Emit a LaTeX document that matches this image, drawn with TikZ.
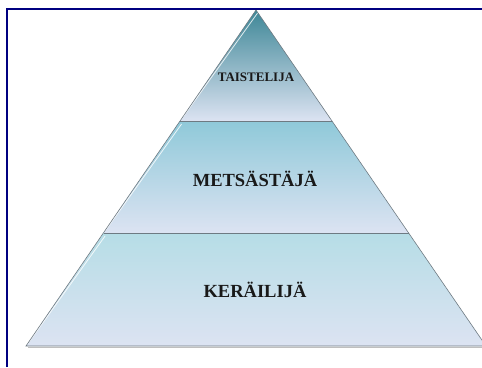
\documentclass[tikz,border=0pt]{standalone}
\usepackage{fontspec}
\setmainfont{Liberation Serif}
\usetikzlibrary{calc}
\definecolor{navyb}{HTML}{000080}
\definecolor{edgegray}{HTML}{6E7A82}
\definecolor{tealdark}{HTML}{3E8797}
\definecolor{tealmid}{HTML}{8FC9D9}
\definecolor{tealpale}{HTML}{B6DDE6}
\definecolor{lavmid}{HTML}{C4D1EC}
\definecolor{lavlow}{HTML}{DCE3F2}
\definecolor{lavtop}{HTML}{B3C6E2}
\tikzset{
  tier/.style={draw=edgegray, line width=0.6pt},
  label/.style={font=\bfseries, text=black!90, inner sep=0pt},
  frame/.style={draw=navyb, line width=2pt},
  shine/.style={draw=white, line width=0.8pt, opacity=0.8}
}
\begin{document}
\begin{tikzpicture}[x=1pt,y=-1pt]
\useasboundingbox (0,0) rectangle (482,367);
\fill[white] (0,0) rectangle (482,367);
\clip (0,0) rectangle (482,367);
\coordinate (A) at (256,10);
\coordinate (L) at (26,346);
\coordinate (R) at (486,346);
\coordinate (P1) at (180,121);
\coordinate (Q1) at (332,121);
\coordinate (P2) at (103.5,233);
\coordinate (Q2) at (408.5,233);
% tiers
\shade[top color=tealdark, middle color=lavtop, bottom color=lavlow] (A) -- (Q1) -- (P1) -- cycle;
\shade[top color=tealmid, middle color=lavmid, bottom color=lavlow] (P1) -- (Q1) -- (Q2) -- (P2) -- cycle;
\shade[top color=tealpale, middle color=lavmid, bottom color=lavlow] (P2) -- (Q2) -- (R) -- (L) -- cycle;
% highlights on left edges
\draw[shine] ($(A)+(1.6,3)$) -- ($(P1)+(1.6,-2)$);
\draw[shine] ($(P1)+(1.6,3)$) -- ($(P2)+(1.6,-2)$);
\draw[shine] ($(P2)+(1.6,3)$) -- ($(L)+(1.6,-2)$);
% outlines
\draw[tier] (A) -- (R) -- (L) -- cycle;
\draw[tier, line width=1pt] (P1) -- (Q1);
\draw[tier, line width=1pt] (P2) -- (Q2);
\draw[black!25, line width=1pt] ($(L)+(2,1.5)$) -- ($(R)+(-2,1.5)$);
% labels
\node[label, font=\bfseries\fontsize{13}{15}\selectfont] (top) at (256,77) {TAISTELIJA};
\node[label, font=\bfseries\fontsize{18.5}{21}\selectfont] (mid) at (255,179) {METSÄSTÄJÄ};
\node[label, font=\bfseries\fontsize{18.5}{21}\selectfont] (low) at (255,290) {KERÄILIJÄ};
% frame
\draw[frame] (7,367) -- (7,9) -- (482,9);
\end{tikzpicture}
\end{document}
